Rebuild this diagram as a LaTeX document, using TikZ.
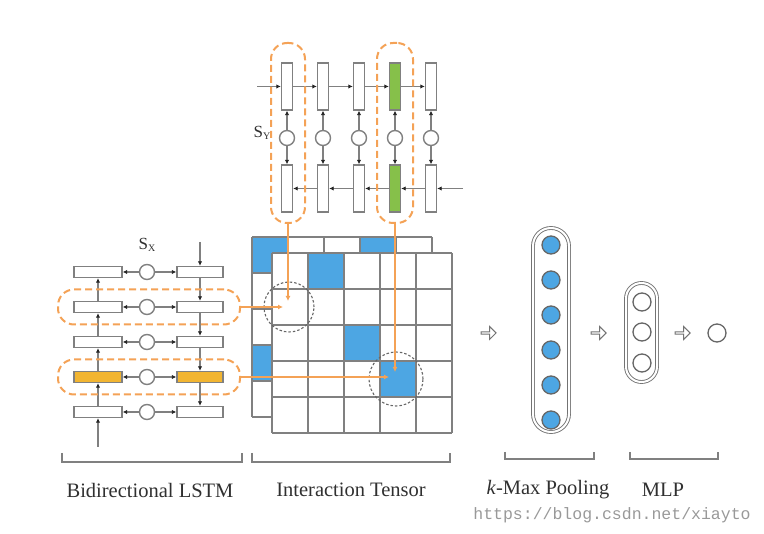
\documentclass[tikz,border=0pt]{standalone}
\usepackage{fontspec}
\setmainfont{Liberation Serif}
\setmonofont{Liberation Mono}
\usetikzlibrary{arrows.meta,shapes.arrows}
\definecolor{ogr}{HTML}{F4A256}
\definecolor{bl}{HTML}{4DA6E3}
\definecolor{gr}{HTML}{86C04A}
\definecolor{yl}{HTML}{F2B531}
\definecolor{ln}{HTML}{808080}
\definecolor{tx}{HTML}{303030}
\tikzset{
  vbox/.style={draw=ln, line width=1.4pt, fill=white, minimum width=11pt, minimum height=47pt, inner sep=0pt},
  hbox/.style={draw=ln, line width=1.4pt, fill=white, minimum width=48pt, minimum height=11pt, inner sep=0pt},
  cel/.style={draw=ln, line width=1.4pt, fill=white, circle, minimum size=15pt, inner sep=0pt},
  arr/.style={draw=ln, line width=1.3pt, -{Latex[length=4.5pt,width=4.5pt,color=black!85]}},
  obox/.style={draw=ogr, dashed, dash pattern=on 7pt off 4pt, line width=2pt, rounded corners=16pt, inner sep=0pt},
  oarr/.style={draw=ogr, line width=1.8pt, -{Latex[length=5pt,width=5pt]}},
  dcirc/.style={draw=black!60, dashed, dash pattern=on 2.5pt off 2pt, line width=1.1pt, circle, inner sep=0pt},
  gridl/.style={draw=ln, line width=1.5pt},
  bcirc/.style={draw=black!60, line width=1.3pt, fill=bl, circle, minimum size=18pt, inner sep=0pt},
  wcirc/.style={draw=black!60, line width=1.3pt, fill=white, circle, minimum size=18pt, inner sep=0pt},
  stad/.style={draw=black!55, line width=0.9pt, double=white, double distance=2pt, inner sep=0pt},
  harr/.style={single arrow, draw=black!55, line width=1pt, fill=white, minimum width=13pt, minimum height=15pt, single arrow head extend=2.5pt, inner sep=0pt},
  brk/.style={draw=ln, line width=1.4pt},
  lab/.style={text=tx, font=\fontsize{20.5}{20.5}\selectfont},
}
\begin{document}
\begin{tikzpicture}[x=1pt,y=-1pt]
\useasboundingbox (0,0) rectangle (764,534);
% ---------- top LSTM (S_Y)
\foreach \i/\x in {1/287,2/323,3/359,4/395,5/431}{
  \node[vbox] (t\i) at (\x,86.5) {};
  \node[vbox] (b\i) at (\x,188.5) {};
  \node[cel] (c\i) at (\x,138) {};
  \draw[arr] (c\i.north) -- (t\i.south);
  \draw[arr] (c\i.south) -- (b\i.north);
}
\node[vbox, fill=gr] at (t4) {};
\node[vbox, fill=gr] at (b4) {};
\coordinate (tin) at (257,86.5);
\coordinate (bin) at (463,188.5);
\draw[arr] (tin) -- (t1.west);
\foreach \a/\b in {1/2,2/3,3/4,4/5}{
  \draw[arr] (t\a.east) -- (t\b.west);
  \draw[arr] (b\b.west) -- (b\a.east);
}
\draw[arr] (bin) -- (b5.east);
\node[text=tx, font=\fontsize{17}{17}\selectfont] (sy) at (262,133) {S\raisebox{-0.15em}{\fontsize{10}{10}\selectfont Y}};
\node[obox, minimum width=34pt, minimum height=180pt] (ot1) at (288,133) {};
\node[obox, minimum width=36pt, minimum height=180pt] (ot4) at (395,133) {};
% ---------- left LSTM (S_X)
\foreach \i/\y in {1/272,2/307,3/342,4/377,5/412}{
  \node[hbox] (l\i) at (98,\y) {};
  \node[hbox, minimum width=46pt] (r\i) at (200,\y) {};
  \node[cel] (m\i) at (147,\y) {};
  \draw[arr] (m\i.west) -- (l\i.east);
  \draw[arr] (m\i.east) -- (r\i.west);
}
\node[hbox, fill=yl] at (l4) {};
\node[hbox, minimum width=46pt, fill=yl] at (r4) {};
\coordinate (lin) at (98,447);
\coordinate (rin) at (200,242);
\draw[arr] (lin) -- (l5.south);
\draw[arr] (rin) -- (r1.north);
\foreach \a/\b in {1/2,2/3,3/4,4/5}{
  \draw[arr] (l\b.north) -- (l\a.south);
  \draw[arr] (r\a.south) -- (r\b.north);
}
\node[text=tx, font=\fontsize{17}{17}\selectfont] (sx) at (147,245) {S\raisebox{-0.15em}{\fontsize{10}{10}\selectfont X}};
\node[obox, minimum width=182pt, minimum height=35pt] (o2) at (149,307) {};
\node[obox, minimum width=182pt, minimum height=35pt] (o4) at (149,377) {};
% ---------- interaction tensor
% back grid
\fill[white] (252,237) rectangle (432,417);
\fill[bl] (252,237) rectangle (288,273);
\fill[bl] (360,237) rectangle (396,273);
\fill[bl] (252,345) rectangle (288,381);
\foreach \k in {0,...,5}{
  \draw[gridl] (252+36*\k,237) -- (252+36*\k,417);
  \draw[gridl] (252,237+36*\k) -- (432,237+36*\k);
}
% front grid
\fill[white] (272,253) rectangle (452,433);
\fill[bl] (308,253) rectangle (344,289);
\fill[bl] (344,325) rectangle (380,361);
\fill[bl] (380,361) rectangle (416,397);
\foreach \k in {0,...,5}{
  \draw[gridl] (272+36*\k,253) -- (272+36*\k,433);
  \draw[gridl] (272,253+36*\k) -- (452,253+36*\k);
}
\node[dcirc, minimum size=50pt] (z1) at (289,307) {};
\node[dcirc, minimum size=54pt] (z2) at (396,379) {};
\coordinate (e1v) at (288,301);
\coordinate (e1h) at (283,307);
\coordinate (e2v) at (395,372);
\coordinate (e2h) at (389,377);
\draw[oarr] (ot1.south) -- (e1v);
\draw[oarr] (o2.east) -- (e1h);
\draw[oarr] (ot4.south) -- (e2v);
\draw[oarr] (o4.east) -- (e2h);
% ---------- k-max pooling
\node[harr] (ha1) at (488,333) {};
\node[stad, minimum width=36pt, minimum height=204pt, rounded corners=18pt] (kp) at (551,330) {};
\foreach \i/\y in {1/245,2/280,3/315,4/350,5/385,6/420}{
  \node[bcirc] (k\i) at (551,\y) {};
}
\node[harr] (ha2) at (598,333) {};
% ---------- MLP
\node[stad, minimum width=31pt, minimum height=99pt, rounded corners=15.5pt] (mp) at (641.5,332.5) {};
\foreach \i/\y in {1/302,2/332,3/363}{
  \node[wcirc] (p\i) at (642,\y) {};
}
\node[harr] (ha3) at (682,333) {};
\node[wcirc] (out) at (717,333) {};
% ---------- brackets & labels
\draw[brk] (62,453) -- (62,462) -- (242,462) -- (242,453);
\draw[brk] (252,453) -- (252,462) -- (450,462) -- (450,453);
\draw[brk] (505,452) -- (505,459) -- (594,459) -- (594,452);
\draw[brk] (630,452) -- (630,459) -- (718,459) -- (718,452);
\node[lab] (lb1) at (150,490) {Bidirectional LSTM};
\node[lab] (lb2) at (351,490) {Interaction Tensor};
\node[lab] (lb3) at (548,490) {\textit{k}-Max Pooling};
\node[lab] (lb4) at (663,490) {MLP};
\node[text=black!40, font=\ttfamily\fontsize{16.5}{16.5}\selectfont] (wm) at (612,515) {https://blog.csdn.net/xiayto};
\end{tikzpicture}
\end{document}
